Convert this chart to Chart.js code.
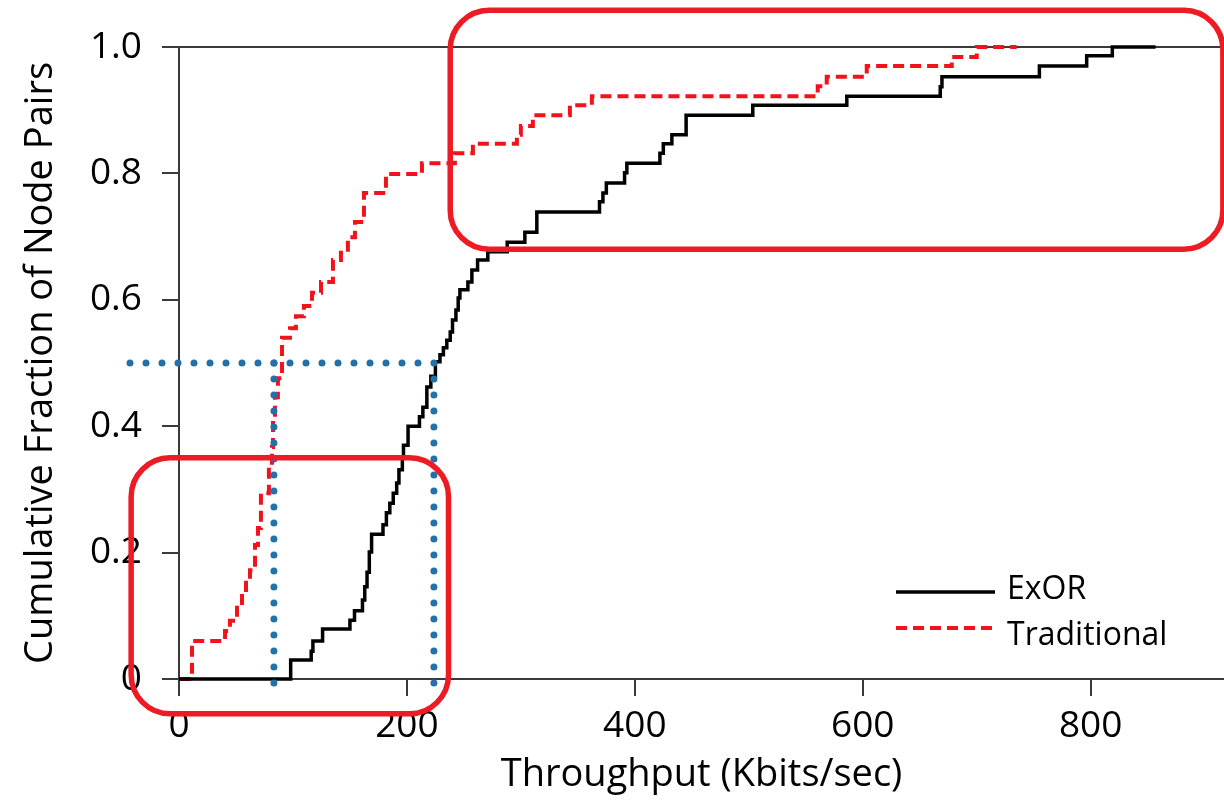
<!DOCTYPE html>
<html>
<head>
<meta charset="utf-8">
<script src="https://cdn.jsdelivr.net/npm/chart.js@4.4.0/dist/chart.umd.min.js"></script>
<style>
  html, body { margin: 0; padding: 0; background: #fff; }
  #wrap { width: 1224px; height: 804px; position: relative; }
</style>
</head>
<body>
<div id="wrap"><canvas id="cdfChart"></canvas></div>
<script>
Chart.defaults.font.family = "'Open Sans', sans-serif";
Chart.defaults.color = "#000";

const xTicks = [0, 200, 400, 600, 800];
const yTicks = [0, 0.2, 0.4, 0.6, 0.8, 1.0];

const exorThroughput = [0, 98, 116, 117.5, 126, 150, 154, 161, 163, 165, 167, 169, 179, 182, 185, 188, 191, 193, 196, 197, 201, 211, 214, 217.5, 221, 225, 229, 232, 235, 238, 240, 243, 245, 246.5, 253.5, 257, 262, 271, 288, 303.5, 314, 369, 372, 375, 391, 393, 422, 425, 432.5, 445, 503.5, 586, 668, 669.5, 755, 796.5, 819, 857];
const exorFraction = [0, 0.030, 0.044, 0.060, 0.079, 0.093, 0.108, 0.125, 0.146, 0.169, 0.201, 0.229, 0.244, 0.263, 0.278, 0.294, 0.310, 0.331, 0.351, 0.370, 0.400, 0.415, 0.430, 0.462, 0.479, 0.502, 0.513, 0.524, 0.536, 0.549, 0.568, 0.584, 0.603, 0.616, 0.628, 0.647, 0.663, 0.676, 0.691, 0.707, 0.739, 0.755, 0.769, 0.785, 0.801, 0.816, 0.832, 0.847, 0.861, 0.892, 0.908, 0.922, 0.937, 0.953, 0.970, 0.986, 1.0, 1.0];

const tradThroughput = [1, 11.4, 40.4, 44.7, 50.9, 55.3, 58.8, 62.3, 66.7, 69.3, 71.9, 78.9, 81.6, 82.5, 84.2, 86.8, 90.4, 97.4, 102.6, 109.6, 116.7, 124.6, 135.1, 142.1, 148.2, 154.4, 162.3, 181.6, 213.2, 242.1, 257.9, 296.5, 300, 310.5, 343, 362.3, 560.5, 568.4, 603.5, 678.1, 700, 735];
const tradFraction = [0, 0.060, 0.076, 0.092, 0.117, 0.141, 0.157, 0.172, 0.212, 0.239, 0.294, 0.342, 0.367, 0.410, 0.446, 0.476, 0.540, 0.555, 0.574, 0.590, 0.611, 0.628, 0.663, 0.679, 0.699, 0.723, 0.769, 0.799, 0.816, 0.832, 0.847, 0.861, 0.875, 0.892, 0.908, 0.922, 0.938, 0.953, 0.970, 0.984, 1.0, 1.0];

// highlighted regions (data units): [from, to]
const highlightX = [[238, 916], [-42, 236.5]];
const highlightY = [[0.68, 1.058], [-0.055, 0.35]];

// median guides: Traditional and ExOR throughput at half the pairs
const medianFraction = 0.5;
const medianThroughput = [83.3, 223.7];
const guideStart = -43;
const guideEnd = -0.028;

const AXIS = "#3a3a3a";
const RED = "#f2121c";
const BOX_RED = "#ed1c24";
const GUIDE = "#2670aa";

function toPoints(xs, ys) {
  return xs.map((v, i) => ({ x: v, y: ys[i] }));
}

function roundRectPath(ctx, x0, y0, x1, y1, r) {
  ctx.beginPath();
  ctx.moveTo(x0 + r, y0);
  ctx.arcTo(x1, y0, x1, y1, r);
  ctx.arcTo(x1, y1, x0, y1, r);
  ctx.arcTo(x0, y1, x0, y0, r);
  ctx.arcTo(x0, y0, x1, y0, r);
  ctx.closePath();
}

const annotationPlugin = {
  id: "annotations",
  afterDatasetsDraw(chart) {
    const { ctx, scales } = chart;
    const x = scales.x;
    const y = scales.y;
    ctx.save();

    // dotted median guides
    ctx.strokeStyle = GUIDE;
    ctx.lineWidth = 7;
    ctx.lineCap = "round";
    ctx.setLineDash([0, 16]);
    const yMid = y.getPixelForValue(medianFraction);
    ctx.beginPath();
    ctx.moveTo(x.getPixelForValue(guideStart), yMid);
    ctx.lineTo(x.getPixelForValue(medianThroughput[1]), yMid);
    ctx.stroke();
    medianThroughput.forEach((v) => {
      const px = x.getPixelForValue(v);
      ctx.beginPath();
      ctx.moveTo(px, yMid);
      ctx.lineTo(px, y.getPixelForValue(guideEnd));
      ctx.stroke();
    });

    // red highlight boxes
    ctx.setLineDash([]);
    ctx.lineCap = "butt";
    ctx.strokeStyle = BOX_RED;
    ctx.lineWidth = 5.5;
    highlightX.forEach((xr, i) => {
      const yr = highlightY[i];
      roundRectPath(
        ctx,
        x.getPixelForValue(xr[0]),
        y.getPixelForValue(yr[1]),
        x.getPixelForValue(xr[1]),
        y.getPixelForValue(yr[0]),
        39
      );
      ctx.stroke();
    });
    ctx.restore();
  },
};

const legendPlugin = {
  id: "insideLegend",
  afterDraw(chart) {
    const { ctx, chartArea } = chart;
    const x0 = chartArea.right - 328;
    const x1 = chartArea.right - 229;
    const tx = chartArea.right - 217;
    const rows = [
      { y: chartArea.bottom - 87, ty: chartArea.bottom - 80 },
      { y: chartArea.bottom - 51, ty: chartArea.bottom - 34 },
    ];
    ctx.save();
    chart.data.datasets.forEach((ds, i) => {
      const r = rows[i];
      ctx.strokeStyle = ds.borderColor;
      ctx.lineWidth = ds.borderWidth;
      ctx.setLineDash(ds.borderDash || []);
      ctx.beginPath();
      ctx.moveTo(x0, r.y);
      ctx.lineTo(x1, r.y);
      ctx.stroke();
      ctx.fillStyle = "#000";
      ctx.font = "32px 'Open Sans', sans-serif";
      ctx.textAlign = "left";
      ctx.textBaseline = "alphabetic";
      ctx.fillText(ds.label, tx, r.ty);
    });
    ctx.restore();
  },
};

function initChart() {
  const ctx = document.getElementById("cdfChart");

  new Chart(ctx, {
    type: "line",
    data: {
      datasets: [
        {
          label: "ExOR",
          data: toPoints(exorThroughput, exorFraction),
          borderColor: "#000",
          borderWidth: 3.5,
          borderJoinStyle: "miter",
          stepped: true,
          pointRadius: 0,
          fill: false,
          clip: false,
        },
        {
          label: "Traditional",
          data: toPoints(tradThroughput, tradFraction),
          borderColor: RED,
          borderWidth: 4,
          borderDash: [11, 6],
          stepped: true,
          pointRadius: 0,
          fill: false,
          clip: false,
        },
      ],
    },
    options: {
      responsive: true,
      maintainAspectRatio: false,
      animation: false,
      layout: { padding: { top: 47, right: 0, bottom: 0, left: 0 } },
      plugins: {
        legend: { display: false },
        tooltip: { enabled: false },
      },
      scales: {
        x: {
          type: "linear",
          min: 0,
          max: 917,
          afterBuildTicks: (scale) => {
            scale.ticks = xTicks.map((v) => ({ value: v }));
          },
          afterFit: (scale) => {
            scale.height = 125;
          },
          ticks: {
            font: { size: 37 },
            padding: 8,
            maxRotation: 0,
            autoSkip: false,
            callback: (v) => String(v),
          },
          grid: {
            drawOnChartArea: false,
            tickLength: 17,
            tickColor: AXIS,
            lineWidth: 2,
          },
          border: { display: true, color: AXIS, width: 2 },
          title: {
            display: true,
            text: "Throughput (Kbits/sec)",
            font: { size: 38 },
            padding: { top: 0, bottom: 6 },
          },
        },
        y: {
          type: "linear",
          min: 0,
          max: 1,
          afterBuildTicks: (scale) => {
            scale.ticks = yTicks.map((v) => ({ value: v }));
          },
          afterFit: (scale) => {
            scale.width = 179;
          },
          ticks: {
            font: { size: 37 },
            padding: 20,
            callback: (v) => (v === 0 ? "0" : v.toFixed(1)),
          },
          grid: {
            color: (c) => (c.tick && c.tick.value === 1 ? AXIS : "rgba(0,0,0,0)"),
            tickColor: AXIS,
            tickLength: 17,
            lineWidth: 2,
          },
          border: { display: true, color: AXIS, width: 2 },
          title: {
            display: true,
            text: "Cumulative Fraction of Node Pairs",
            font: { size: 38 },
            padding: { top: 18, bottom: 0 },
          },
        },
      },
    },
    plugins: [annotationPlugin, legendPlugin],
  });
}

document.addEventListener("DOMContentLoaded", initChart);
</script>
</body>
</html>
